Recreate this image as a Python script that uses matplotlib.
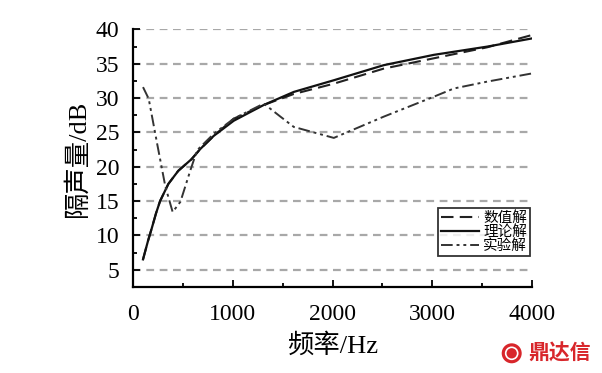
import matplotlib
matplotlib.use("Agg")
import matplotlib.pyplot as plt
from matplotlib.ticker import MultipleLocator
from matplotlib.patches import Ellipse

plt.rcParams['font.family'] = ['Liberation Serif', 'Noto Sans CJK SC', 'DejaVu Sans']

freq_theory = [100, 150, 189, 230, 271, 354, 453, 586, 675, 809, 1009, 1310, 1611, 2012, 2513, 3014, 3549, 4000]
val_theory = [6.5, 9.2, 11.1, 13.2, 15.0, 17.5, 19.4, 21.1, 22.6, 24.5, 26.7, 29.0, 30.9, 32.6, 34.8, 36.3, 37.5, 38.7]

freq_numeric = [100, 150, 189, 230, 271, 354, 453, 586, 675, 809, 1009, 1310, 1611, 2012, 2513, 3014, 3549, 4000]
val_numeric = [6.5, 9.2, 11.1, 13.2, 15.0, 17.5, 19.4, 21.1, 22.6, 24.5, 27.0, 29.0, 30.6, 32.1, 34.3, 35.8, 37.4, 39.2]

freq_exp = [100, 157, 241, 324, 397, 475, 575, 642, 809, 1009, 1310, 1477, 1611, 2012, 2513, 3014, 3215, 3549, 4000]
val_exp = [31.6, 29.9, 23.4, 17.1, 13.4, 14.9, 19.5, 22.4, 24.8, 27.0, 29.2, 27.3, 25.8, 24.2, 27.3, 30.2, 31.4, 32.4, 33.6]

labels = ['数值解', '理论解', '实验解']

W, H = 602, 373
fig = plt.figure(figsize=(W / 100, H / 100), dpi=100)
ax = fig.add_axes([0.221, 0.231, 0.663, 0.690])

for y in range(5, 41, 5):
    ax.axhline(y, color='#a8a8a8', linestyle=(0, (3.5, 2.5)), linewidth=1.6, zorder=0)

ax.plot(freq_numeric, val_numeric, color='#222222', linestyle=(0, (6, 3)), linewidth=1.5, label=labels[0])
ax.plot(freq_theory, val_theory, color='#111111', linestyle='-', linewidth=1.6, label=labels[1])
ax.plot(freq_exp, val_exp, color='#333333', linestyle=(0, (6, 2, 1.5, 2, 1.5, 2)), linewidth=1.4, label=labels[2])

ax.set_xlim(0, 4000)
ax.set_ylim(2.5, 40)
ax.xaxis.set_major_locator(MultipleLocator(1000))
ax.xaxis.set_minor_locator(MultipleLocator(500))
ax.yaxis.set_major_locator(MultipleLocator(5))
ax.yaxis.set_minor_locator(MultipleLocator(2.5))
ax.tick_params(which='both', direction='in', width=1.3, labelsize=17)
ax.tick_params(axis='x', pad=12)
ax.tick_params(axis='y', pad=10)
ax.tick_params(which='major', length=5)
ax.tick_params(which='minor', length=3)
ax.spines['top'].set_visible(False)
ax.spines['right'].set_visible(False)
ax.spines['left'].set_linewidth(1.6)
ax.spines['bottom'].set_linewidth(1.6)

ax.set_xlabel('频率/Hz', fontsize=19, labelpad=6)
ax.set_ylabel('隔声量/dB', fontsize=19, labelpad=4)

leg = ax.legend(loc='lower right', bbox_to_anchor=(0.995, 0.12), frameon=True,
                fancybox=False, edgecolor='black', handlelength=2.6, handletextpad=0.3,
                labelspacing=0.0, borderpad=0.2, borderaxespad=0.0,
                prop={'family': ['Noto Sans CJK SC'], 'size': 10.5})
leg.get_frame().set_linewidth(1.3)

cx, cy, r = 511.7 / W, 1 - 353.3 / H, 10
fig.patches.append(Ellipse((cx, cy), 2 * r / W, 2 * r / H, transform=fig.transFigure,
                           facecolor='#d8262b', edgecolor='none'))
fig.patches.append(Ellipse((cx, cy), 1.2 * r / W, 1.2 * r / H, transform=fig.transFigure,
                           facecolor='none', edgecolor='white', linewidth=1.2))
fig.text(559.5 / W, cy, '鼎达信', color='#d8262b', fontsize=15, fontweight='bold',
         family=['Noto Sans CJK SC'], ha='center', va='center')

fig.savefig('out.png', dpi=100)
